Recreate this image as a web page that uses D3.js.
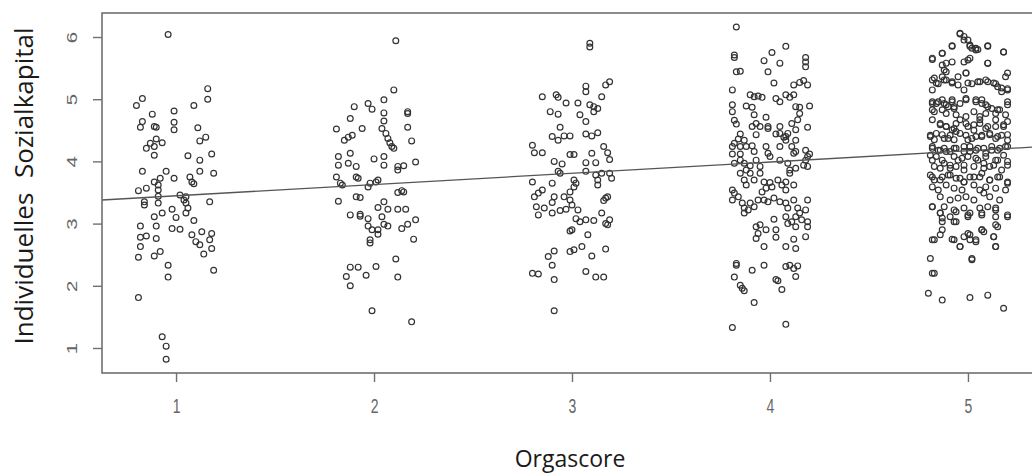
<!DOCTYPE html>
<html>
<head>
<meta charset="utf-8">
<script src="https://cdn.jsdelivr.net/npm/d3@7"></script>
<style>
  body { margin: 0; background: #fff; }
  svg { display: block; }
</style>
</head>
<body>
<div id="chart"></div>
<script>
// values: [jitter offset on Orgascore, Sozialkapital]
const orga1 = [[-0.04,6.04],[0.16,5.17],[0.16,5.00],[-0.17,5.01],[-0.20,4.90],[0.09,4.90],[-0.12,4.76],[-0.01,4.81],[-0.17,4.64],[-0.18,4.55],[-0.11,4.56],[-0.10,4.55],[-0.01,4.63],[-0.01,4.51],[0.11,4.54],[0.15,4.39],[0.12,4.33],[-0.10,4.36],[-0.07,4.30],[-0.13,4.29],[-0.15,4.21],[-0.11,4.24],[-0.11,4.10],[0.06,4.09],[0.18,4.12],[0.12,4.02],[-0.17,3.84],[-0.05,3.84],[-0.01,3.73],[0.12,3.84],[0.19,3.81],[0.07,3.75],[0.08,3.67],[0.09,3.64],[-0.11,3.67],[-0.08,3.73],[-0.19,3.53],[-0.15,3.57],[-0.09,3.62],[-0.09,3.54],[-0.09,3.44],[0.02,3.46],[0.05,3.43],[0.04,3.38],[0.05,3.33],[0.06,3.25],[0.05,3.17],[-0.16,3.35],[-0.16,3.30],[-0.09,3.33],[0.17,3.35],[-0.02,3.23],[-0.07,3.17],[0.00,3.10],[-0.11,3.11],[0.09,3.05],[-0.18,2.96],[-0.10,2.96],[-0.02,2.92],[0.02,2.91],[-0.18,2.78],[-0.15,2.80],[-0.10,2.76],[0.08,2.82],[0.13,2.87],[0.10,2.71],[0.12,2.66],[0.17,2.74],[0.18,2.84],[-0.18,2.63],[0.18,2.60],[-0.19,2.46],[-0.11,2.48],[-0.08,2.55],[0.14,2.51],[-0.04,2.33],[0.19,2.25],[-0.04,2.14],[-0.19,1.81],[-0.07,1.18],[-0.05,1.03],[-0.05,0.82]];
const orga2 = [[0.11,5.94],[0.10,5.15],[0.05,4.99],[-0.03,4.93],[-0.01,4.84],[-0.10,4.88],[0.05,4.78],[0.17,4.80],[0.17,4.77],[-0.12,4.69],[-0.19,4.52],[-0.06,4.53],[0.05,4.65],[0.04,4.53],[0.17,4.55],[-0.15,4.34],[-0.11,4.42],[-0.13,4.39],[0.06,4.45],[0.07,4.37],[0.08,4.30],[0.09,4.24],[0.10,4.21],[0.19,4.33],[-0.12,4.13],[-0.18,4.08],[-0.18,3.94],[-0.13,3.97],[-0.09,3.92],[0.00,4.04],[0.05,4.08],[0.05,3.94],[0.12,3.92],[0.12,3.86],[0.15,3.93],[0.21,3.99],[-0.19,3.75],[-0.17,3.65],[-0.16,3.62],[-0.09,3.75],[-0.08,3.73],[-0.03,3.59],[-0.02,3.65],[0.01,3.67],[0.02,3.70],[-0.18,3.36],[-0.09,3.43],[-0.07,3.42],[0.12,3.50],[0.14,3.53],[0.15,3.51],[0.05,3.35],[0.02,3.26],[0.07,3.23],[0.12,3.23],[0.16,3.23],[-0.12,3.14],[-0.07,3.15],[-0.07,3.12],[-0.03,3.08],[0.04,3.11],[0.05,2.99],[0.07,2.96],[-0.03,2.96],[-0.01,2.90],[0.02,2.83],[0.02,2.90],[-0.02,2.74],[-0.02,2.69],[0.14,2.92],[0.17,2.99],[0.21,3.06],[0.20,2.75],[-0.12,2.30],[-0.08,2.30],[-0.14,2.15],[-0.12,2.00],[-0.04,2.17],[0.01,2.31],[0.11,2.43],[0.12,2.14],[-0.01,1.60],[0.19,1.42]];
const orga3 = [[0.09,5.90],[0.09,5.84],[0.07,5.21],[0.17,5.23],[0.19,5.28],[-0.15,5.04],[-0.08,5.07],[-0.07,5.03],[-0.03,4.94],[0.03,4.94],[0.07,5.12],[0.15,5.04],[-0.11,4.80],[-0.07,4.76],[0.09,4.91],[0.11,4.88],[0.13,4.85],[0.11,4.80],[0.04,4.75],[0.07,4.64],[-0.06,4.55],[-0.10,4.40],[-0.07,4.34],[-0.04,4.41],[-0.01,4.41],[0.07,4.44],[0.10,4.41],[0.13,4.46],[-0.20,4.26],[-0.19,4.14],[-0.15,4.14],[-0.01,4.11],[0.01,4.11],[-0.09,4.00],[-0.05,3.96],[0.07,3.98],[0.10,4.13],[0.12,3.98],[0.16,4.24],[0.18,4.14],[0.19,4.03],[-0.07,3.84],[-0.06,3.81],[0.07,3.84],[0.12,3.78],[0.13,3.70],[0.15,3.81],[0.19,3.81],[0.20,3.73],[-0.20,3.67],[-0.10,3.65],[-0.15,3.54],[-0.17,3.49],[-0.19,3.43],[0.01,3.70],[0.02,3.65],[0.01,3.59],[-0.01,3.51],[0.13,3.62],[-0.09,3.43],[-0.10,3.34],[-0.04,3.43],[-0.01,3.38],[0.00,3.30],[0.17,3.41],[0.18,3.43],[0.16,3.37],[-0.18,3.27],[-0.14,3.25],[-0.17,3.14],[-0.10,3.17],[-0.06,3.21],[-0.03,3.23],[0.03,3.22],[0.02,3.08],[0.04,3.03],[0.07,3.06],[0.11,3.05],[0.15,3.17],[0.17,3.00],[0.19,3.06],[0.18,2.98],[0.00,2.90],[-0.01,2.88],[0.08,2.82],[0.05,2.63],[-0.01,2.55],[0.01,2.58],[0.10,2.48],[0.17,2.59],[-0.09,2.56],[-0.12,2.47],[-0.10,2.33],[-0.20,2.20],[-0.17,2.19],[-0.09,2.10],[0.07,2.23],[0.12,2.14],[0.16,2.14],[-0.09,1.60]];
const orga4 = [[-0.17,6.16],[0.08,5.85],[-0.18,5.71],[-0.18,5.67],[0.01,5.75],[-0.03,5.62],[0.05,5.58],[-0.01,5.44],[0.18,5.67],[0.18,5.60],[0.18,5.52],[-0.17,5.44],[-0.15,5.45],[0.02,5.26],[0.12,5.23],[0.15,5.27],[0.17,5.30],[0.19,5.23],[-0.19,5.15],[-0.10,5.07],[-0.08,5.04],[-0.06,5.05],[-0.04,5.03],[0.03,5.01],[0.05,4.96],[0.08,5.07],[0.10,5.03],[0.12,5.07],[-0.19,4.91],[-0.19,4.80],[-0.12,4.89],[-0.09,4.87],[0.13,4.88],[0.15,4.87],[0.20,4.89],[0.15,4.77],[-0.18,4.66],[-0.17,4.60],[-0.08,4.75],[-0.07,4.61],[-0.09,4.56],[-0.05,4.56],[-0.02,4.71],[-0.01,4.56],[-0.01,4.53],[0.05,4.56],[0.05,4.45],[0.08,4.40],[0.11,4.61],[0.14,4.67],[0.19,4.55],[0.13,4.51],[-0.15,4.44],[-0.16,4.36],[-0.13,4.34],[-0.07,4.43],[0.03,4.44],[0.07,4.39],[0.09,4.45],[0.13,4.34],[0.08,4.34],[-0.19,4.24],[-0.18,4.29],[-0.15,4.24],[-0.12,4.24],[-0.09,4.25],[-0.08,4.16],[-0.02,4.24],[-0.01,4.13],[0.05,4.24],[0.11,4.24],[0.12,4.13],[0.13,4.16],[0.18,4.18],[0.20,4.12],[0.19,4.08],[-0.19,4.12],[-0.15,4.12],[-0.15,4.02],[-0.18,3.97],[-0.13,3.97],[-0.10,3.93],[-0.12,3.86],[-0.07,4.02],[-0.05,3.92],[0.00,4.08],[0.05,4.02],[0.09,3.97],[0.10,3.86],[0.13,3.89],[0.17,3.94],[0.19,3.92],[0.18,4.02],[-0.15,3.81],[-0.13,3.70],[-0.12,3.62],[-0.10,3.81],[-0.08,3.70],[-0.05,3.81],[-0.03,3.67],[0.00,3.66],[-0.02,3.57],[-0.04,3.51],[0.01,3.59],[0.04,3.70],[0.06,3.62],[0.08,3.54],[0.08,3.67],[0.12,3.62],[0.10,3.81],[-0.19,3.54],[-0.18,3.49],[-0.19,3.38],[-0.16,3.43],[-0.14,3.33],[-0.13,3.25],[-0.13,3.17],[-0.11,3.22],[-0.10,3.33],[-0.08,3.27],[-0.06,3.38],[-0.03,3.38],[-0.01,3.35],[0.02,3.41],[0.05,3.35],[0.08,3.33],[0.09,3.25],[0.12,3.38],[0.14,3.25],[0.18,3.22],[0.19,3.38],[0.15,3.17],[-0.07,2.95],[-0.05,2.98],[-0.06,2.84],[-0.07,2.76],[-0.02,2.90],[0.02,3.07],[0.03,2.90],[0.03,2.78],[0.08,3.11],[0.09,3.00],[0.11,3.03],[0.13,2.95],[0.13,3.11],[0.16,3.06],[0.19,3.03],[0.19,2.95],[0.18,2.79],[-0.03,2.63],[0.08,2.63],[0.12,2.75],[0.13,2.60],[-0.17,2.36],[-0.17,2.33],[-0.09,2.25],[-0.03,2.33],[0.08,2.31],[0.10,2.33],[0.12,2.28],[0.14,2.32],[0.13,2.15],[-0.18,2.14],[-0.15,2.01],[-0.13,1.92],[-0.14,1.96],[0.03,2.10],[0.04,2.08],[0.06,1.94],[-0.08,1.73],[-0.19,1.33],[0.08,1.38]];
const orga5 = [[-0.04,6.06],[-0.02,6.01],[0.00,5.95],[0.01,5.85],[0.04,5.82],[0.05,5.80],[-0.08,5.85],[-0.13,5.74],[-0.18,5.64],[0.10,5.85],[0.18,5.76],[-0.13,5.55],[-0.12,5.47],[-0.08,5.60],[-0.02,5.60],[0.01,5.66],[0.10,5.58],[-0.18,5.31],[-0.16,5.26],[-0.13,5.36],[-0.11,5.31],[-0.08,5.26],[-0.05,5.23],[-0.01,5.42],[0.00,5.26],[-0.02,5.15],[0.05,5.28],[0.09,5.31],[0.13,5.26],[0.15,5.20],[0.19,5.36],[0.20,5.17],[0.17,5.12],[-0.18,4.93],[-0.15,4.96],[-0.12,4.93],[-0.10,4.88],[-0.08,4.99],[-0.07,4.88],[-0.04,4.93],[-0.01,4.99],[0.04,4.99],[0.07,4.93],[0.10,4.88],[0.14,4.77],[0.15,4.83],[0.20,4.91],[0.19,4.75],[-0.17,4.80],[-0.13,4.83],[-0.11,4.77],[-0.06,4.75],[-0.01,4.72],[0.03,4.80],[0.06,4.72],[0.09,4.77],[-0.14,4.59],[-0.11,4.56],[-0.08,4.51],[-0.06,4.61],[0.00,4.56],[0.03,4.59],[0.06,4.61],[0.09,4.53],[0.14,4.56],[0.18,4.59],[-0.19,4.40],[-0.17,4.35],[-0.13,4.43],[-0.10,4.37],[-0.07,4.35],[-0.04,4.45],[0.00,4.35],[0.04,4.40],[0.07,4.40],[0.11,4.43],[0.15,4.40],[0.20,4.43],[-0.18,4.24],[-0.15,4.18],[-0.12,4.21],[-0.09,4.16],[-0.06,4.21],[-0.02,4.24],[0.01,4.16],[0.04,4.18],[0.08,4.21],[0.12,4.24],[0.15,4.18],[0.19,4.24],[-0.19,4.10],[-0.16,4.08],[-0.13,4.02],[-0.07,4.08],[-0.03,4.05],[0.00,4.08],[0.05,4.02],[0.09,4.08],[0.14,4.02],[0.18,4.10],[0.20,4.00],[-0.17,3.92],[-0.14,3.89],[-0.09,3.94],[-0.06,3.92],[-0.02,3.86],[0.03,3.92],[0.08,3.89],[0.13,3.94],[0.17,3.86],[-0.19,3.78],[-0.17,3.70],[-0.13,3.75],[-0.09,3.78],[-0.04,3.73],[-0.02,3.67],[0.01,3.75],[0.06,3.75],[0.11,3.70],[0.15,3.75],[0.20,3.67],[-0.18,3.59],[-0.15,3.54],[-0.11,3.62],[-0.07,3.57],[-0.03,3.54],[0.03,3.62],[0.06,3.54],[0.09,3.59],[0.14,3.57],[0.19,3.54],[-0.14,3.43],[-0.09,3.38],[-0.05,3.41],[-0.01,3.43],[0.03,3.38],[0.08,3.49],[0.11,3.43],[0.16,3.38],[-0.12,3.27],[-0.07,3.22],[-0.02,3.25],[0.01,3.17],[0.06,3.25],[0.10,3.27],[0.14,3.22],[0.20,3.11],[-0.18,3.27],[-0.14,3.17],[-0.13,3.09],[-0.09,3.11],[-0.06,3.03],[0.00,3.11],[0.07,3.14],[0.14,3.11],[0.15,2.95],[-0.13,2.90],[-0.18,2.74],[-0.14,2.82],[-0.08,2.75],[-0.04,2.63],[-0.02,2.79],[0.00,2.84],[0.01,2.74],[0.04,2.74],[0.07,2.90],[0.08,2.87],[0.13,2.79],[0.14,2.63],[-0.19,2.44],[-0.18,2.20],[0.02,2.44],[-0.20,1.88],[-0.13,1.77],[0.01,1.81],[0.10,1.85],[0.18,1.64],
  [-0.04,6.05],[-0.02,5.95],[0.01,5.87],[0.02,5.82],[0.04,5.79],[0.10,5.86],[0.18,5.76],[-0.18,5.66],[-0.13,5.74],[-0.08,5.86],[0.00,5.63],[0.10,5.58],[0.20,5.42],[-0.11,5.58],[-0.17,5.34],[-0.15,5.25],[-0.12,5.31],[-0.11,5.44],[-0.08,5.28],[-0.05,5.36],[-0.01,5.42],[0.02,5.25],[0.06,5.28],[0.10,5.28],[0.14,5.25],[0.17,5.18],[0.20,5.15],[-0.18,5.15],[-0.18,4.96],[-0.16,4.93],[-0.13,4.99],[-0.11,4.91],[-0.08,4.96],[-0.07,4.85],[-0.01,5.01],[0.04,4.96],[0.07,4.99],[0.09,4.91],[0.12,4.85],[0.16,4.83],[0.20,4.96],[-0.18,4.83],[-0.18,4.67],[-0.14,4.61],[-0.11,4.56],[-0.07,4.53],[-0.04,4.67],[-0.01,4.61],[0.03,4.50],[0.06,4.67],[0.10,4.56],[0.14,4.67],[0.18,4.56],[0.20,4.64],[-0.19,4.42],[-0.16,4.45],[-0.12,4.37],[-0.09,4.42],[-0.06,4.48],[-0.01,4.42],[0.02,4.37],[0.07,4.42],[0.11,4.45],[0.14,4.37],[0.17,4.42],[0.20,4.34],[-0.18,4.21],[-0.14,4.18],[-0.11,4.16],[-0.07,4.21],[-0.02,4.16],[0.01,4.24],[0.05,4.21],[0.09,4.13],[0.12,4.18],[0.16,4.21],[0.20,4.24],[-0.18,4.02],[-0.12,3.97],[-0.09,3.89],[-0.05,4.02],[-0.02,3.94],[0.04,4.05],[0.08,3.97],[0.11,3.92],[0.15,4.02],[0.20,3.94],[-0.18,3.75],[-0.14,3.70],[-0.10,3.78],[-0.06,3.73],[-0.02,3.67],[0.03,3.75],[0.07,3.81],[0.11,3.70],[0.16,3.75],[0.20,3.65],
  [-0.18,3.27],[-0.14,3.17],[-0.06,3.19],[0.00,3.14],[0.07,3.17],[0.14,3.25],[0.20,3.14],[-0.13,3.03],[-0.07,3.03],[0.07,2.90],[0.14,2.98],[0.01,2.82],[0.13,2.79],[-0.17,2.74],[-0.07,2.74],[-0.04,2.63],[0.04,2.71],[0.14,2.63],[0.02,2.42],[-0.17,2.20]];

const orgaLevels = [1, 2, 3, 4, 5];
const orgaPoints = [orga1, orga2, orga3, orga4, orga5];
const xTicks = [1, 2, 3, 4, 5];
const yTicks = [1, 2, 3, 4, 5, 6];
// lm(Sozialkapital ~ Orgascore)
const fitIntercept = 3.266;
const fitSlope = 0.181;

const width = 1032, height = 475;
const plotLeft = 102, plotRight = 1042, plotTop = 13, plotBottom = 373;
const stretch = 1.45; // the tick digits are drawn tall and narrow

const x = d3.scaleLinear().domain([0.626, 5.374]).range([plotLeft, plotRight]);
const y = d3.scaleLinear().domain([0.598, 6.386]).range([plotBottom, plotTop]);

const svg = d3.select("#chart").append("svg")
    .attr("width", width)
    .attr("height", height);

svg.append("clipPath").attr("id", "plotclip")
    .append("rect")
    .attr("x", plotLeft).attr("y", plotTop)
    .attr("width", plotRight - plotLeft).attr("height", plotBottom - plotTop);

// points
const flat = [];
orgaPoints.forEach((pts, i) => {
    pts.forEach(p => flat.push({org: orgaLevels[i] + p[0], val: p[1]}));
});

svg.append("g")
    .selectAll("circle")
    .data(flat)
    .enter()
    .append("circle")
    .attr("cx", d => x(d.org))
    .attr("cy", d => y(d.val))
    .attr("r", 2.9)
    .attr("fill", "none")
    .attr("stroke", "#333")
    .attr("stroke-width", 1.2);

// regression line
const xd = x.domain();
svg.append("line")
    .attr("clip-path", "url(#plotclip)")
    .attr("x1", x(xd[0])).attr("y1", y(fitIntercept + fitSlope * xd[0]))
    .attr("x2", x(xd[1])).attr("y2", y(fitIntercept + fitSlope * xd[1]))
    .attr("stroke", "#555")
    .attr("stroke-width", 1.3);

// box
svg.append("rect")
    .attr("x", plotLeft).attr("y", plotTop)
    .attr("width", plotRight - plotLeft).attr("height", plotBottom - plotTop)
    .attr("fill", "none")
    .attr("stroke", "#707070")
    .attr("stroke-width", 1.6);

// axes
const yAxis = svg.append("g")
    .attr("transform", "translate(" + plotLeft + ",0)")
    .call(d3.axisLeft(y).tickValues(yTicks).tickSize(9).tickFormat(d3.format("d")));
yAxis.select(".domain").remove();
yAxis.selectAll(".tick line").attr("stroke", "#707070").attr("stroke-width", 1.4);
yAxis.selectAll(".tick text")
    .attr("x", 0).attr("y", -25).attr("dy", 0)
    .attr("text-anchor", "middle")
    .attr("transform", "scale(1," + stretch + ") rotate(-90)")
    .attr("fill", "#666")
    .style("font-family", "'Liberation Sans', Arial, sans-serif")
    .style("font-size", "14px");

const xAxis = svg.append("g")
    .attr("transform", "translate(0," + plotBottom + ")")
    .call(d3.axisBottom(x).tickValues(xTicks).tickSize(9).tickFormat(d3.format("d")));
xAxis.select(".domain").remove();
xAxis.selectAll(".tick line").attr("stroke", "#707070").attr("stroke-width", 1.4);
xAxis.selectAll(".tick text")
    .attr("y", 40 / stretch).attr("dy", 0)
    .attr("transform", "scale(1," + stretch + ")")
    .attr("fill", "#666")
    .style("font-family", "'Liberation Sans', Arial, sans-serif")
    .style("font-size", "14px");

// titles
svg.append("text")
    .attr("x", (plotLeft + plotRight) / 2 - 2)
    .attr("y", 467)
    .attr("text-anchor", "middle")
    .attr("fill", "#1a1a1a")
    .style("font-family", "'Open Sans', sans-serif")
    .style("font-size", "23px")
    .text("Orgascore");

svg.append("text")
    .attr("transform", "translate(33,186) rotate(-90)")
    .attr("text-anchor", "middle")
    .attr("fill", "#1a1a1a")
    .style("font-family", "'Open Sans', sans-serif")
    .style("font-size", "26px")
    .style("word-spacing", "8px")
    .text("Individuelles Sozialkapital");
</script>
</body>
</html>
